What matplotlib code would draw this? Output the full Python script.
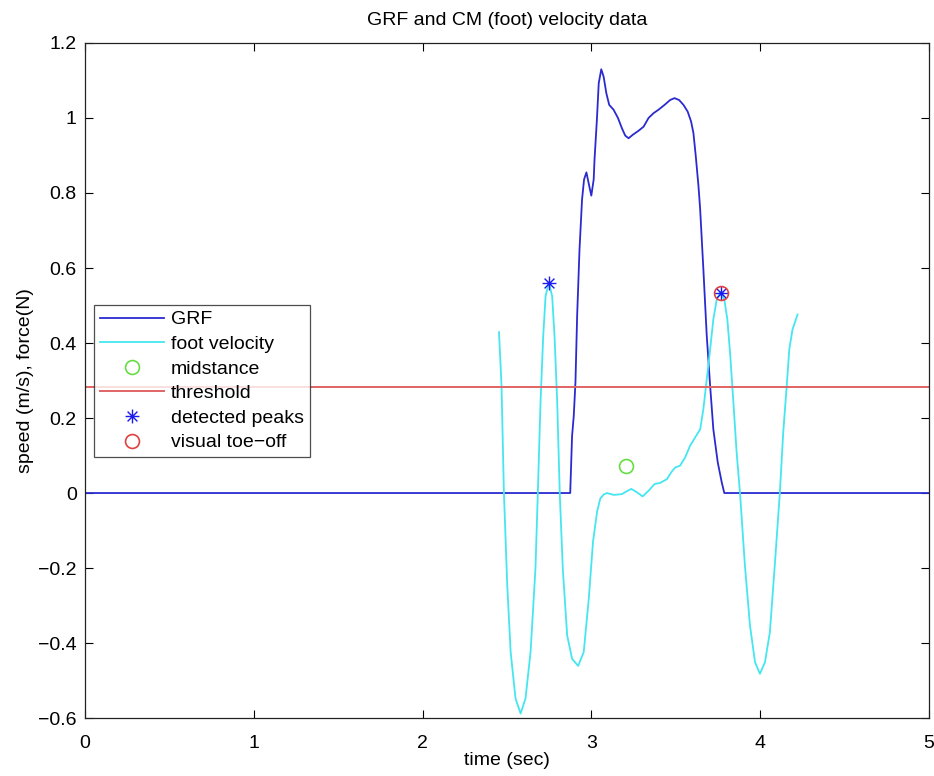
import matplotlib
matplotlib.use("Agg")
import matplotlib.pyplot as plt
from matplotlib.path import Path

plt.rcParams['font.family'] = ['Liberation Sans', 'DejaVu Sans']

# GRF curve (time, force)
grf_t = [0.0, 2.875, 2.886, 2.896, 2.906, 2.916, 2.930, 2.945, 2.957, 2.971, 2.988, 3.000,
         3.014, 3.019, 3.033, 3.044, 3.059, 3.073, 3.089, 3.106, 3.132, 3.158, 3.181,
         3.201, 3.221, 3.245, 3.280, 3.310, 3.339, 3.369, 3.398, 3.434, 3.467, 3.493,
         3.520, 3.546, 3.571, 3.591, 3.605, 3.619, 3.635, 3.645, 3.664, 3.684, 3.704,
         3.723, 3.749, 3.773, 3.788, 5.0]
grf_v = [0.0, 0.0, 0.152, 0.206, 0.295, 0.472, 0.649, 0.782, 0.836, 0.855, 0.818, 0.793,
         0.836, 0.889, 0.995, 1.093, 1.130, 1.110, 1.066, 1.035, 1.022, 1.000, 0.973,
         0.953, 0.946, 0.955, 0.966, 0.977, 1.000, 1.013, 1.022, 1.035, 1.048, 1.053,
         1.048, 1.035, 1.017, 0.991, 0.960, 0.898, 0.818, 0.756, 0.596, 0.419, 0.286,
         0.170, 0.082, 0.028, 0.0, 0.0]

# foot velocity curve (time, speed)
foot_t = [2.453, 2.468, 2.482, 2.502, 2.522, 2.551, 2.581, 2.610, 2.640, 2.669, 2.683,
          2.699, 2.715, 2.729, 2.748, 2.768, 2.782, 2.798, 2.813, 2.831, 2.857, 2.886,
          2.922, 2.955, 2.985, 3.010, 3.034, 3.053, 3.073, 3.093, 3.132, 3.181, 3.211,
          3.237, 3.270, 3.304, 3.339, 3.375, 3.408, 3.448, 3.473, 3.497, 3.526, 3.556,
          3.585, 3.615, 3.645, 3.664, 3.684, 3.704, 3.723, 3.743, 3.767, 3.788, 3.806,
          3.822, 3.842, 3.861, 3.881, 3.910, 3.940, 3.970, 3.999, 4.029, 4.058, 4.087,
          4.117, 4.137, 4.157, 4.173, 4.192, 4.222]
foot_v = [0.429, 0.286, 0.002, -0.247, -0.424, -0.548, -0.588, -0.548, -0.424, -0.202, 0.0,
          0.241, 0.419, 0.525, 0.561, 0.525, 0.419, 0.241, 0.0, -0.202, -0.380, -0.442,
          -0.461, -0.424, -0.282, -0.130, -0.050, -0.015, -0.004, 0.0, -0.005, -0.003, 0.005,
          0.011, 0.002, -0.009, 0.006, 0.024, 0.027, 0.037, 0.055, 0.068, 0.073, 0.095,
          0.126, 0.148, 0.170, 0.224, 0.303, 0.383, 0.463, 0.516, 0.536, 0.516, 0.463,
          0.374, 0.241, 0.108, 0.0, -0.193, -0.353, -0.451, -0.482, -0.451, -0.371, -0.193,
          0.0, 0.161, 0.281, 0.383, 0.436, 0.476]

midstance_t = [3.205]
midstance_v = [0.073]
threshold = 0.282
peaks_t = [2.748, 3.767]
peaks_v = [0.561, 0.534]
toeoff_t = [3.767]
toeoff_v = [0.534]

xticks = [0, 1, 2, 3, 4, 5]
yticks = [-0.6, -0.4, -0.2, 0, 0.2, 0.4, 0.6, 0.8, 1.0, 1.2]
yticklabels = ['\u22120.6', '\u22120.4', '\u22120.2', '0', '0.2', '0.4', '0.6', '0.8', '1', '1.2']

# MATLAB-style 8-armed asterisk marker
d = 0.7071
star = Path([(-1, 0), (1, 0), (0, -1), (0, 1), (-d, -d), (d, d), (-d, d), (d, -d)],
            [Path.MOVETO, Path.LINETO] * 4)

fig = plt.figure(figsize=(9.34, 7.76), dpi=100)
ax = fig.add_axes([0.091, 0.0747, 0.9035, 0.8699])

ax.plot(grf_t, grf_v, color='#2a2ad0', lw=1.3, label='GRF')
ax.plot(foot_t, foot_v, color='#45e6f0', lw=1.3, label='foot velocity')
ax.plot(midstance_t, midstance_v, 'o', mfc='none', mec='#66dd44', ms=10, mew=1.2, label='midstance')
ax.axhline(threshold, color='#e06464', lw=1.4, label='threshold')
ax.plot(peaks_t, peaks_v, linestyle='none', marker=star, mfc='none', mec='#1a1aee',
        ms=10, mew=1.0, label='detected peaks')
ax.plot(toeoff_t, toeoff_v, 'o', mfc='none', mec='#e04040', ms=10, mew=1.2, label='visual toe\u2212off')

ax.set_xlim(0, 5)
ax.set_ylim(-0.6, 1.2)
ax.set_xticks(xticks)
ax.set_xticklabels([str(x) for x in xticks])
ax.set_yticks(yticks)
ax.set_yticklabels(yticklabels)
ax.tick_params(direction='in', top=True, right=True, labelsize=14, length=6, width=0.8)
ax.tick_params(axis='x', pad=12)
ax.tick_params(axis='y', pad=6)
for s in ax.spines.values():
    s.set_linewidth(0.9)
    s.set_color('#222222')

ax.set_title('GRF and CM (foot) velocity data', fontsize=14, pad=13)
ax.set_xlabel('time (sec)', fontsize=14, labelpad=0)
ax.set_ylabel('speed (m/s), force(N)', fontsize=14, labelpad=3)

leg = ax.legend(loc='upper left', bbox_to_anchor=(0.0106, 0.612), fontsize=14,
                frameon=True, fancybox=False, edgecolor='#222222', borderpad=0.3,
                labelspacing=0.36, handlelength=3.3, handletextpad=0.35, borderaxespad=0)
leg.get_frame().set_linewidth(0.9)

fig.savefig('out.png', dpi=100)
